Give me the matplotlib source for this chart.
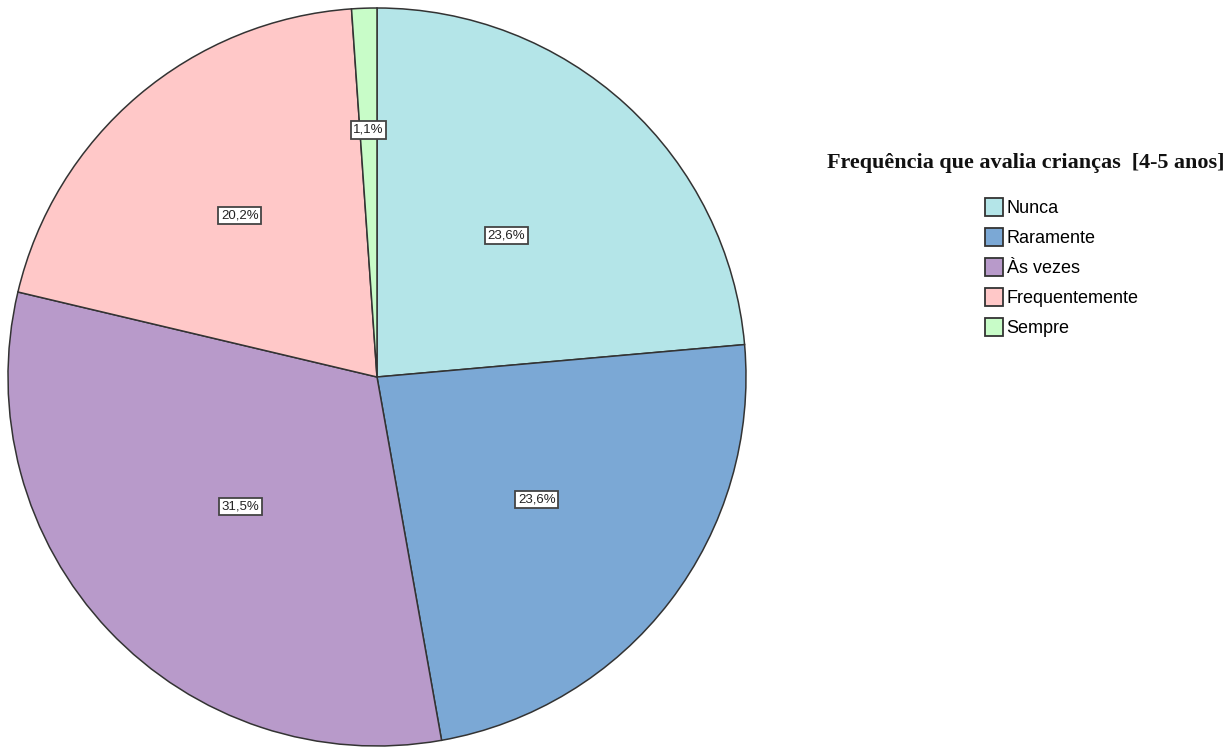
import numpy as np
import matplotlib
matplotlib.use("Agg")
import matplotlib.pyplot as plt
from matplotlib.patches import Patch

categories = ["Nunca", "Raramente", "Às vezes", "Frequentemente", "Sempre"]
values = [23.6, 23.6, 31.5, 20.2, 1.1]
labels = ["23,6%", "23,6%", "31,5%", "20,2%", "1,1%"]
colors = ["#B4E5E8", "#7BA8D5", "#B89ACA", "#FFC8C8", "#C8FCC8"]
label_r = [0.52, 0.545, 0.51, 0.575, 0.67]
legend_title = "Frequência que avalia crianças  [4-5 anos]"

W, H = 1232, 748
fig = plt.figure(figsize=(W / 100, H / 100), dpi=100)
cx, cy, R = 377, 377, 369
ax = fig.add_axes([(cx - R) / W, (H - cy - R) / H, 2 * R / W, 2 * R / H])
wedges, _ = ax.pie(values, colors=colors, startangle=90, counterclock=False,
                   radius=1.0,
                   wedgeprops=dict(edgecolor="#333333", linewidth=1.1))
ax.set_xlim(-1, 1)
ax.set_ylim(-1, 1)
ax.set_aspect("equal")
ax.axis("off")

for w, lab, r in zip(wedges, labels, label_r):
    ang = np.deg2rad((w.theta1 + w.theta2) / 2)
    ax.text(r * np.cos(ang), r * np.sin(ang), lab, ha="center", va="center",
            fontsize=9.5, family=["Liberation Sans", "DejaVu Sans"], color="#222222",
            bbox=dict(boxstyle="square,pad=0.2", facecolor="white",
                      edgecolor="#444444", linewidth=1.3))

fig.text(1026 / W, 1 - 163 / H, legend_title, ha="center", va="center",
         fontsize=15.9, fontweight="bold",
         family=["Liberation Serif", "DejaVu Serif"], color="#111111")

handles = [Patch(facecolor=c, edgecolor="#333333", linewidth=1.3) for c in colors]
leg = fig.legend(handles, categories, loc="upper left",
                 bbox_to_anchor=(985 / W, 1 - 198 / H), frameon=False,
                 prop=dict(family=["Liberation Sans Narrow", "Liberation Sans", "DejaVu Sans"], size=13),
                 handlelength=1.0, handleheight=1.15, handletextpad=0.2,
                 labelspacing=0.6, borderaxespad=0, borderpad=0)

fig.savefig("out.png", dpi=100, facecolor="white")
